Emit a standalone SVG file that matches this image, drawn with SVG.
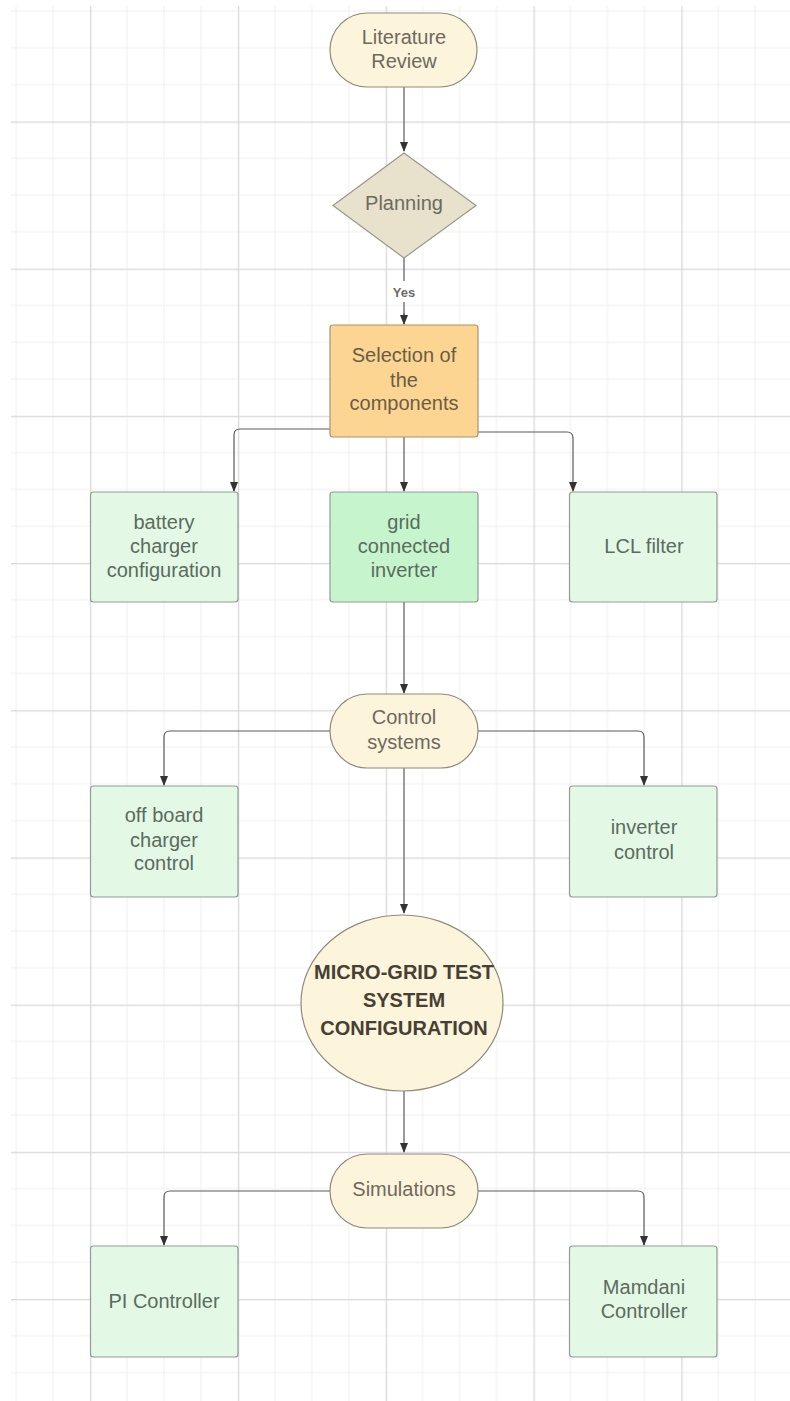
<svg xmlns="http://www.w3.org/2000/svg" width="790" height="1401" viewBox="0 0 790 1401">
<style>
  text{font-family:"Liberation Sans",Arial,sans-serif;font-size:20px;text-anchor:middle}
  .cream{fill:#fdf4dc;stroke:#8e8a7c;stroke-width:1.2}
  .diam{fill:#e8e1cb;stroke:#9a978a;stroke-width:1.2}
  .orange{fill:#fdd593;stroke:#a8946e;stroke-width:1.2}
  .green{fill:#e3f9e5;stroke:#909c93;stroke-width:1.2}
  .green2{fill:#c6f5cd;stroke:#909c93;stroke-width:1.2}
  .tc{fill:#6e695c}
  .to{fill:#6b5d45}
  .tg{fill:#5b6b5f}
  .tb{fill:#463f33;font-weight:bold}
  .conn path{fill:none;stroke:#5a5a5a;stroke-width:1.2}
</style>
<defs>
  <pattern id="grid" patternUnits="userSpaceOnUse" x="90.1" y="121.4" width="147.8" height="147.2">
    <path d="M36.95 0V147.2M73.9 0V147.2M110.85 0V147.2M0 36.8H147.8M0 73.6H147.8M0 110.4H147.8" stroke="#efefef" stroke-width="1" fill="none"/>
    <rect x="0" y="0" width="1.3" height="147.2" fill="#d9d9d9"/>
    <rect x="0" y="0" width="147.8" height="1.3" fill="#d9d9d9"/>
  </pattern>
  <marker id="arr" markerWidth="10" markerHeight="10" refX="9" refY="5" orient="auto" markerUnits="userSpaceOnUse">
    <path d="M0,1 L10,5 L0,9 z" fill="#333"/>
  </marker>
</defs>
<rect width="790" height="1401" fill="#ffffff"/>
<rect x="11" y="6" width="779" height="1395" fill="url(#grid)"/>

<g class="conn" id="connectors">
  <path d="M404 87V151" marker-end="url(#arr)"/>
  <path d="M404 258V281M404 302V324" />
  <path d="M404 313V324" marker-end="url(#arr)"/>
  <path d="M330 429H240Q234 429 234 435V491" marker-end="url(#arr)"/>
  <path d="M404 437V491" marker-end="url(#arr)"/>
  <path d="M478 432H567Q573 432 573 438V491" marker-end="url(#arr)"/>
  <path d="M404 602V693" marker-end="url(#arr)"/>
  <path d="M330 731H170Q164 731 164 737V785" marker-end="url(#arr)"/>
  <path d="M478 731H638Q644 731 644 737V785" marker-end="url(#arr)"/>
  <path d="M404 768V913" marker-end="url(#arr)"/>
  <path d="M404 1091V1152" marker-end="url(#arr)"/>
  <path d="M330 1191H170Q164 1191 164 1197V1245" marker-end="url(#arr)"/>
  <path d="M478 1191H638Q644 1191 644 1197V1245" marker-end="url(#arr)"/>
  <text x="404" y="297" style="font-size:13px;font-weight:bold;fill:#6b6b6b">Yes</text>
</g>

<g id="literature-review">
  <rect class="cream" x="330" y="13" width="147" height="74" rx="37"/>
  <text class="tc" x="404" y="44">Literature</text>
  <text class="tc" x="404" y="68">Review</text>
</g>
<g id="planning">
  <path class="diam" d="M404 153L476 205.5L404 258L333 205.5Z"/>
  <text x="404" y="210" style="fill:#6b6b60">Planning</text>
</g>
<g id="selection">
  <rect class="orange" x="330" y="325" width="148" height="112" rx="3"/>
  <text class="to" x="404" y="362">Selection of</text>
  <text class="to" x="404" y="387">the</text>
  <text class="to" x="404" y="410">components</text>
</g>
<g id="battery">
  <rect class="green" x="90.5" y="492" width="147.5" height="110" rx="3"/>
  <text class="tg" x="164" y="529">battery</text>
  <text class="tg" x="164" y="553">charger</text>
  <text class="tg" x="164" y="577">configuration</text>
</g>
<g id="grid-inverter">
  <rect class="green2" x="330" y="492" width="148" height="110" rx="3"/>
  <text class="tg" x="404" y="529">grid</text>
  <text class="tg" x="404" y="553">connected</text>
  <text class="tg" x="404" y="577">inverter</text>
</g>
<g id="lcl">
  <rect class="green" x="569.5" y="492" width="147.5" height="110" rx="3"/>
  <text class="tg" x="644" y="553">LCL filter</text>
</g>
<g id="control-systems">
  <rect class="cream" x="330" y="694" width="148" height="74" rx="37"/>
  <text class="tc" x="404" y="724">Control</text>
  <text class="tc" x="404" y="749">systems</text>
</g>
<g id="offboard">
  <rect class="green" x="90.5" y="786" width="147.5" height="111" rx="3"/>
  <text class="tg" x="164" y="822">off board</text>
  <text class="tg" x="164" y="847">charger</text>
  <text class="tg" x="164" y="870">control</text>
</g>
<g id="inverter-control">
  <rect class="green" x="569.5" y="786" width="147.5" height="111" rx="3"/>
  <text class="tg" x="644" y="834">inverter</text>
  <text class="tg" x="644" y="859">control</text>
</g>
<g id="microgrid">
  <ellipse class="cream" cx="402" cy="1003" rx="101" ry="88"/>
  <text class="tb" x="404" y="979">MICRO-GRID TEST</text>
  <text class="tb" x="404" y="1007">SYSTEM</text>
  <text class="tb" x="404" y="1035">CONFIGURATION</text>
</g>
<g id="simulations">
  <rect class="cream" x="330" y="1154" width="148" height="74" rx="37"/>
  <text class="tc" x="404" y="1196">Simulations</text>
</g>
<g id="pi">
  <rect class="green" x="90.5" y="1246" width="147.5" height="111" rx="3"/>
  <text class="tg" x="164" y="1308">PI Controller</text>
</g>
<g id="mamdani">
  <rect class="green" x="569.5" y="1246" width="147.5" height="111" rx="3"/>
  <text class="tg" x="644" y="1294">Mamdani</text>
  <text class="tg" x="644" y="1318">Controller</text>
</g>
</svg>
